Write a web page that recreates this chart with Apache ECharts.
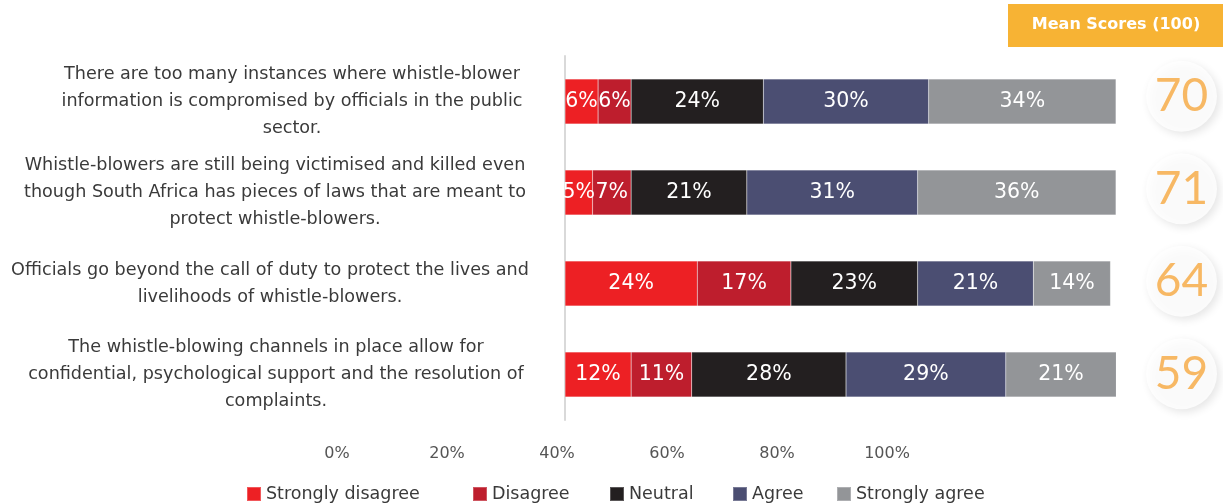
<!DOCTYPE html>
<html>
<head>
<meta charset="utf-8">
<script src="https://cdn.jsdelivr.net/npm/echarts@6/dist/echarts.min.js"></script>
<style>
  html, body { margin: 0; padding: 0; background: #ffffff; }
  #chart { width: 1223px; height: 504px; }
</style>
</head>
<body>
<div id="chart"></div>
<script>
// Survey statements (top to bottom)
const statements = [
  'There are too many instances where whistle-blower\ninformation is compromised by officials in the public\nsector.',
  'Whistle-blowers are still being victimised and killed even\nthough South Africa has pieces of laws that are meant to\nprotect whistle-blowers.',
  'Officials go beyond the call of duty to protect the lives and\nlivelihoods of whistle-blowers.',
  'The whistle-blowing channels in place allow for\nconfidential, psychological support and the resolution of\ncomplaints.'
];

// Response shares (%) per statement
const stronglyDisagree = [6, 5, 24, 12];
const disagree         = [6, 7, 17, 11];
const neutral          = [24, 21, 23, 28];
const agree            = [30, 31, 21, 29];
const stronglyAgree    = [34, 36, 14, 21];

// Mean score out of 100 per statement
const meanScores = [70, 71, 64, 59];

// Scale tick labels
const tickValues = [0, 20, 40, 60, 80, 100];

const seriesNames  = ['Strongly disagree', 'Disagree', 'Neutral', 'Agree', 'Strongly agree'];
const seriesData   = [stronglyDisagree, disagree, neutral, agree, stronglyAgree];
const seriesColors = ['#ED2024', '#BE1E2D', '#231F20', '#4B4E72', '#939598'];

const FONT = 'DejaVu Sans';
const labelBlockWidths = [482, 516, 526, 514];
const legendLefts = [241, 467, 604, 727, 831];

const chart = echarts.init(document.getElementById('chart'), null, { renderer: 'canvas' });

const richStyles = {};
labelBlockWidths.forEach((w, i) => {
  richStyles['r' + i] = {
    width: w, align: 'center', fontFamily: FONT, fontSize: 17.6,
    color: '#3a3a3a', lineHeight: 27
  };
});

const option = {
  backgroundColor: '#ffffff',
  animation: false,
  textStyle: { fontFamily: FONT },
  graphic: [
    {
      type: 'rect', left: 1008, top: 4,
      shape: { width: 215, height: 43 },
      style: { fill: '#F7B334' }, silent: true
    },
    {
      type: 'text', x: 1116, y: 25,
      style: {
        text: 'Mean Scores (100)', fill: '#ffffff',
        font: 'bold 16px "DejaVu Sans"', align: 'center', verticalAlign: 'middle'
      }, silent: true
    }
  ],
  legend: seriesNames.map((name, i) => ({
    data: [name],
    left: legendLefts[i], top: 480,
    icon: 'rect', itemWidth: 14, itemHeight: 14, itemGap: 0,
    textStyle: { fontFamily: FONT, fontSize: 17.5, color: '#3a3a3a' },
    selectedMode: false
  })),
  grid: [
    { left: 565, right: 107, top: 56, bottom: 84 },
    { left: 337, width: 550, top: 56, bottom: 66 },
    { left: 1146, width: 71, top: 50, bottom: 84 }
  ],
  xAxis: [
    { type: 'value', gridIndex: 0, min: 0, max: 100, show: false },
    {
      type: 'value', gridIndex: 1, min: 0, max: 100, interval: 20,
      axisLine: { show: false }, axisTick: { show: false }, splitLine: { show: false },
      axisLabel: {
        formatter: v => (tickValues.includes(v) ? v + '%' : ''),
        fontFamily: FONT, fontSize: 16, color: '#555555', margin: 8
      }
    },
    { type: 'value', gridIndex: 2, min: 0, max: 1, show: false }
  ],
  yAxis: [
    {
      type: 'category', gridIndex: 0, data: statements, inverse: true,
      axisLine: { show: true, lineStyle: { color: '#D9D9D9', width: 2 } },
      axisTick: { show: false },
      axisLabel: {
        margin: 32, align: 'right',
        formatter: (value, idx) => value.split('\n').map(l => '{r' + idx + '|' + l + '}').join('\n'),
        rich: richStyles
      }
    },
    { type: 'value', gridIndex: 1, show: false },
    { type: 'category', gridIndex: 2, data: statements, inverse: true, show: false }
  ],
  series: seriesNames.map((name, i) => ({
    name: name,
    type: 'bar',
    stack: 'total',
    xAxisIndex: 0, yAxisIndex: 0,
    barWidth: 45,
    data: seriesData[i],
    itemStyle: { color: seriesColors[i], borderColor: 'rgba(255,255,255,0.25)', borderWidth: 0.5 },
    label: {
      show: true, position: 'inside', formatter: '{c}%',
      color: '#ffffff', fontFamily: FONT, fontSize: 20.5
    }
  })).concat([{
    type: 'scatter',
    xAxisIndex: 2, yAxisIndex: 2,
    symbol: 'circle', symbolSize: 71,
    data: meanScores.map((s, i) => [0.5, i, s]),
    encode: { x: 0, y: 1 },
    itemStyle: {
      color: '#FFFFFF', shadowColor: 'rgba(0,0,0,0.13)', shadowBlur: 8,
      shadowOffsetX: 3, shadowOffsetY: 3
    },
    label: {
      show: true, position: 'inside', formatter: p => p.value[2],
      color: '#F6A83E', fontFamily: 'Lato', fontWeight: 'normal', fontSize: 46
    }
  }])
};

chart.setOption(option);
</script>
</body>
</html>
